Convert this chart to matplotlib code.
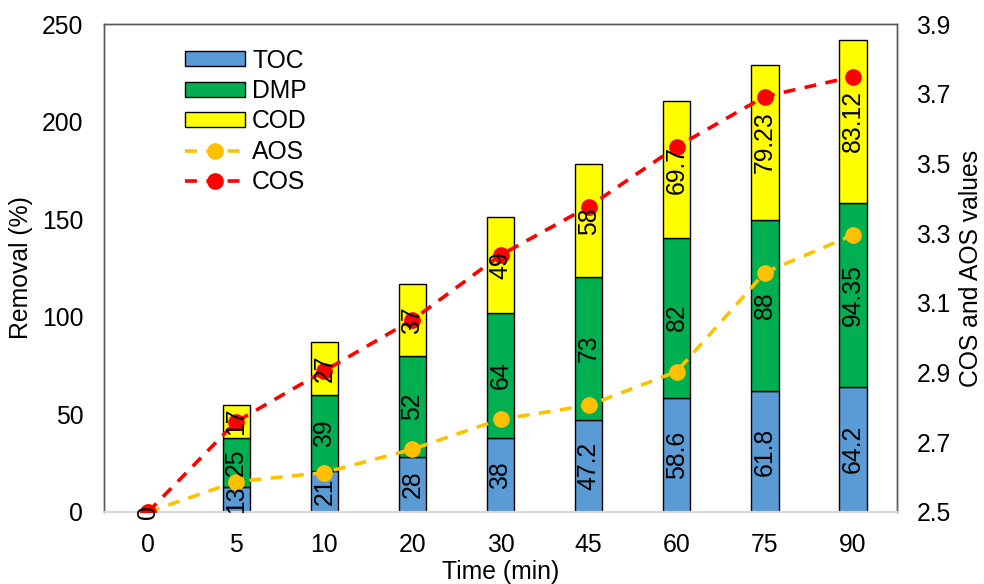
import numpy as np
import matplotlib
matplotlib.use("Agg")
from matplotlib import pyplot as plt

# data
times = ["0", "5", "10", "20", "30", "45", "60", "75", "90"]
toc = [0, 13, 21, 28, 38, 47.2, 58.6, 61.8, 64.2]
dmp = [0, 25, 39, 52, 64, 73, 82, 88, 94.35]
cod = [0, 17, 27, 37, 49, 58, 69.7, 79.23, 83.12]
toc_lbl = ["0", "13", "21", "28", "38", "47.2", "58.6", "61.8", "64.2"]
dmp_lbl = ["", "25", "39", "52", "64", "73", "82", "88", "94.35"]
cod_lbl = ["", "17", "27", "37", "49", "58", "69.7", "79.23", "83.12"]
aos = [2.5, 2.587, 2.613, 2.68, 2.766, 2.806, 2.903, 3.187, 3.295]
cos = [2.5, 2.759, 2.905, 3.051, 3.237, 3.376, 3.548, 3.692, 3.749]

plt.rcParams['font.family'] = ['Liberation Sans', 'DejaVu Sans']
fs = 17.8

fig = plt.figure(figsize=(9.84, 5.84), dpi=100)
ax = fig.add_axes([0.1057, 0.1233, 0.8059, 0.8356])
ax2 = ax.twinx()

x = np.arange(len(times))
w = 0.31
b1 = ax.bar(x, toc, w, color='#5B9BD5', edgecolor='black', linewidth=1, label='TOC', zorder=2)
b2 = ax.bar(x, dmp, w, bottom=toc, color='#00B050', edgecolor='black', linewidth=1, label='DMP', zorder=2)
bot3 = np.array(toc) + np.array(dmp)
b3 = ax.bar(x, cod, w, bottom=bot3, color='#FFFF00', edgecolor='black', linewidth=1, label='COD', zorder=2)

ax.set_xlim(-0.5, len(times) - 0.5)
ax.set_ylim(0, 250)
ax.set_yticks([0, 50, 100, 150, 200, 250])
ax.set_xticks(x)
ax.set_xticklabels(times)
ax.tick_params(axis='both', length=0, labelsize=fs, pad=15)

l1, = ax2.plot(x, aos, '--o', color='#FFC000', lw=2.6, ms=11, dashes=(3.3, 2.6), label='AOS', zorder=3)
l2, = ax2.plot(x, cos, '--o', color='#FF0000', lw=2.6, ms=11, dashes=(3.3, 2.6), label='COS', zorder=3)
ax2.set_ylim(2.5, 3.9)
ax2.set_yticks([2.5, 2.7, 2.9, 3.1, 3.3, 3.5, 3.7, 3.9])
ax2.set_yticklabels(["2.5", "2.7", "2.9", "3.1", "3.3", "3.5", "3.7", "3.9"])
ax2.tick_params(axis='y', length=0, labelsize=fs, pad=14)

# segment labels, drawn on top
for i in range(len(times)):
    ax2.text(x[i], 2.5 + toc[i] / 2 * 1.4 / 250, toc_lbl[i], rotation=90, ha='center', va='center',
             fontsize=fs, zorder=5)
    if dmp_lbl[i]:
        ax2.text(x[i], 2.5 + (toc[i] + dmp[i] / 2) * 1.4 / 250, dmp_lbl[i], rotation=90,
                 ha='center', va='center', fontsize=fs, zorder=5)
    if cod_lbl[i]:
        ax2.text(x[i], 2.5 + (bot3[i] + cod[i] / 2) * 1.4 / 250, cod_lbl[i], rotation=90,
                 ha='center', va='center', fontsize=fs, zorder=5)

for a in (ax, ax2):
    for s in ['left', 'right', 'top']:
        a.spines[s].set_color('#595959')
        a.spines[s].set_linewidth(1)
    a.spines['bottom'].set_color('#D9D9D9')
    a.spines['bottom'].set_linewidth(1.5)

ax.set_xlabel('Time (min)', fontsize=fs, labelpad=2)
ax.set_ylabel('Removal (%)', fontsize=fs, labelpad=6)
ax2.set_ylabel('COS and AOS values', fontsize=fs, labelpad=6)

ax2.legend([b1, b2, b3, l1, l2], ['TOC', 'DMP', 'COD', 'AOS', 'COS'], loc='upper left',
           bbox_to_anchor=(0.09, 0.97), frameon=False, fontsize=fs, handlelength=2.4,
           handleheight=0.55, labelspacing=0.26, handletextpad=0.3, borderaxespad=0)

fig.savefig('out.png', dpi=100)
